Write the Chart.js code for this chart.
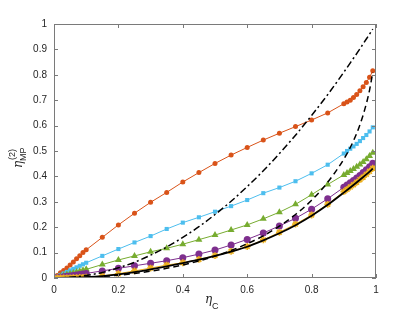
<!DOCTYPE html>
<html>
<head>
<meta charset="utf-8">
<style>
  html, body { margin: 0; padding: 0; background: #fff; }
  #wrap { width: 415px; height: 312px; }
</style>
</head>
<body>
<div id="wrap"><canvas id="myChart" width="415" height="312"></canvas></div>

<script src="https://cdn.jsdelivr.net/npm/chart.js"></script>
<script>
  // eta_C sample points for the marked series
  const etaC = [0.01, 0.02, 0.03, 0.04, 0.05, 0.06, 0.07, 0.08, 0.09, 0.10,
    0.15, 0.20, 0.25, 0.30, 0.35, 0.40, 0.45, 0.50, 0.55, 0.60, 0.65, 0.70, 0.75, 0.80, 0.85,
    0.90, 0.91, 0.92, 0.93, 0.94, 0.95, 0.96, 0.97, 0.98, 0.99];

  const mpOrange = [0.010, 0.021, 0.030, 0.039, 0.051, 0.063, 0.076, 0.088, 0.100, 0.111,
    0.160, 0.209, 0.255, 0.298, 0.337, 0.378, 0.415, 0.451, 0.484, 0.514, 0.543, 0.570, 0.596, 0.622, 0.650,
    0.686, 0.693, 0.700, 0.711, 0.722, 0.737, 0.753, 0.770, 0.790, 0.816];
  const mpCyan = [0.006, 0.012, 0.018, 0.024, 0.030, 0.036, 0.042, 0.048, 0.054, 0.060,
    0.087, 0.114, 0.140, 0.165, 0.193, 0.218, 0.239, 0.261, 0.283, 0.307, 0.334, 0.356, 0.381, 0.412, 0.446,
    0.490, 0.500, 0.509, 0.518, 0.528, 0.539, 0.551, 0.563, 0.577, 0.593];
  const mpGreen = [0.003, 0.007, 0.010, 0.014, 0.017, 0.020, 0.024, 0.027, 0.031, 0.034,
    0.053, 0.071, 0.087, 0.103, 0.117, 0.133, 0.151, 0.169, 0.189, 0.209, 0.233, 0.259, 0.290, 0.328, 0.368,
    0.406, 0.413, 0.421, 0.429, 0.438, 0.447, 0.457, 0.468, 0.480, 0.493];
  const mpPurple = [0.0015, 0.003, 0.005, 0.007, 0.008, 0.010, 0.012, 0.014, 0.016, 0.018,
    0.028, 0.038, 0.048, 0.058, 0.068, 0.080, 0.094, 0.110, 0.130, 0.152, 0.177, 0.205, 0.235, 0.271, 0.312,
    0.357, 0.366, 0.375, 0.384, 0.394, 0.404, 0.415, 0.426, 0.438, 0.452];
  const mpYellow = [0, 0, 0.0003, 0.0005, 0.0008, 0.001, 0.0015, 0.002, 0.0025, 0.003,
    0.008, 0.017, 0.028, 0.039, 0.051, 0.060, 0.073, 0.088, 0.105, 0.124, 0.150, 0.180, 0.212, 0.248, 0.290,
    0.340, 0.349, 0.358, 0.367, 0.377, 0.387, 0.397, 0.408, 0.420, 0.432];

  // eta_C points for the three black reference curves
  const curveX = [0, 0.05, 0.10, 0.15, 0.20, 0.25, 0.30, 0.35, 0.40, 0.45, 0.50, 0.55, 0.60,
    0.65, 0.70, 0.75, 0.80, 0.85, 0.90, 0.93, 0.95, 0.97, 0.98, 0.99];
  const dashDotCurve = [0, 0.0025, 0.010, 0.022, 0.040, 0.062, 0.090, 0.122, 0.160, 0.202, 0.250, 0.302, 0.360,
    0.422, 0.490, 0.562, 0.640, 0.722, 0.810, 0.865, 0.902, 0.941, 0.960, 0.980];
  const dashedCurve = [0, 0.0006, 0.0026, 0.006, 0.011, 0.018, 0.027, 0.038, 0.051, 0.067, 0.086, 0.108, 0.135,
    0.166, 0.204, 0.250, 0.306, 0.377, 0.468, 0.540, 0.603, 0.686, 0.740, 0.810];
  const solidCurve = [0, 0.001, 0.003, 0.007, 0.014, 0.023, 0.034, 0.046, 0.059, 0.072, 0.087, 0.104, 0.123,
    0.148, 0.176, 0.208, 0.245, 0.288, 0.336, 0.366, 0.387, 0.408, 0.419, 0.431];

  const xTicks = [0, 0.2, 0.4, 0.6, 0.8, 1];
  const yTicks = [0, 0.1, 0.2, 0.3, 0.4, 0.5, 0.6, 0.7, 0.8, 0.9, 1];

  const pts = (xs, ys) => xs.map((x, i) => ({ x: x, y: ys[i] }));

  function marked(vals, color, style, radius, order) {
    return {
      data: pts(etaC, vals),
      borderColor: color,
      backgroundColor: color,
      borderWidth: 1,
      pointStyle: style,
      pointRadius: radius,
      pointBorderWidth: style === 'star' ? 1.6 : 0,
      pointBorderColor: color,
      pointBackgroundColor: color,
      order: order
    };
  }

  function blackLine(vals, dash, width, order) {
    return {
      data: pts(curveX, vals),
      borderColor: '#000',
      borderWidth: width,
      borderDash: dash,
      pointRadius: 0,
      cubicInterpolationMode: 'monotone',
      order: order
    };
  }

  // box with inward ticks on all sides, plus axis titles with sub/superscripts
  const axesBox = {
    id: 'axesBox',
    afterDraw(chart) {
      const { ctx, chartArea: a, scales } = chart;
      ctx.save();
      ctx.strokeStyle = '#7a7a7a';
      ctx.lineWidth = 1;
      ctx.strokeRect(a.left + 0.5, a.top + 0.5, a.right - a.left - 1, a.bottom - a.top - 1);
      ctx.beginPath();
      xTicks.forEach(v => {
        const px = Math.round(scales.x.getPixelForValue(v)) + 0.5;
        ctx.moveTo(px, a.bottom); ctx.lineTo(px, a.bottom - 4);
        ctx.moveTo(px, a.top); ctx.lineTo(px, a.top + 4);
      });
      yTicks.forEach(v => {
        const py = Math.round(scales.y.getPixelForValue(v)) + 0.5;
        ctx.moveTo(a.left, py); ctx.lineTo(a.left + 4, py);
        ctx.moveTo(a.right, py); ctx.lineTo(a.right - 4, py);
      });
      ctx.stroke();

      ctx.fillStyle = '#262626';
      ctx.textBaseline = 'alphabetic';
      ctx.textAlign = 'left';
      // x title: eta_C
      ctx.font = 'italic 12px "DejaVu Serif", serif';
      ctx.fillText('η', 205, 303);
      ctx.font = '9px "Liberation Sans", Arial, sans-serif';
      ctx.fillText('C', 212, 309);

      // y title: eta_MP^(2), rotated
      ctx.translate(22, 168);
      ctx.rotate(-Math.PI / 2);
      ctx.font = 'italic 12px "DejaVu Serif", serif';
      ctx.fillText('η', 0, 0);
      ctx.font = '9px "Liberation Sans", Arial, sans-serif';
      ctx.fillText('MP', 7, 4);
      ctx.fillText('(2)', 8, -7);
      ctx.restore();
    }
  };

  document.addEventListener('DOMContentLoaded', function () {
    const ctx = document.getElementById('myChart');
    new Chart(ctx, {
      type: 'line',
      data: {
        datasets: [
          marked(mpOrange, '#D95319', 'circle', 2.5, 6),
          marked(mpCyan, '#4DBEEE', 'rect', 2.9, 5),
          marked(mpGreen, '#77AC30', 'triangle', 4, 4),
          marked(mpPurple, '#7E2F8E', 'circle', 3.5, 3),
          marked(mpYellow, '#EDB120', 'star', 3.4, 2),
          blackLine(dashDotCurve, [7, 3, 2, 3], 1.5, 1),
          blackLine(dashedCurve, [6, 4], 1.5, 1),
          blackLine(solidCurve, [], 1.8, 0)
        ]
      },
      options: {
        responsive: false,
        animation: false,
        layout: { padding: { left: 0, right: 39, top: 24, bottom: 0 } },
        plugins: { legend: { display: false }, tooltip: { enabled: false } },
        scales: {
          x: {
            type: 'linear',
            min: 0, max: 1,
            afterFit: s => { s.height = 34; },
            grid: { display: false, drawTicks: false },
            border: { display: false },
            afterBuildTicks: s => { s.ticks = xTicks.map(v => ({ value: v })); },
            ticks: {
              padding: 6,
              color: '#262626',
              font: { family: '"Liberation Sans", Arial, sans-serif', size: 10 },
              callback: v => String(+v.toFixed(1))
            }
          },
          y: {
            type: 'linear',
            min: 0, max: 1,
            afterFit: s => { s.width = 54; },
            grid: { display: false, drawTicks: false },
            border: { display: false },
            afterBuildTicks: s => { s.ticks = yTicks.map(v => ({ value: v })); },
            ticks: {
              padding: 7,
              color: '#262626',
              font: { family: '"Liberation Sans", Arial, sans-serif', size: 10 },
              callback: v => String(+v.toFixed(1))
            }
          }
        }
      },
      plugins: [axesBox]
    });
  });
</script>
</body>
</html>
